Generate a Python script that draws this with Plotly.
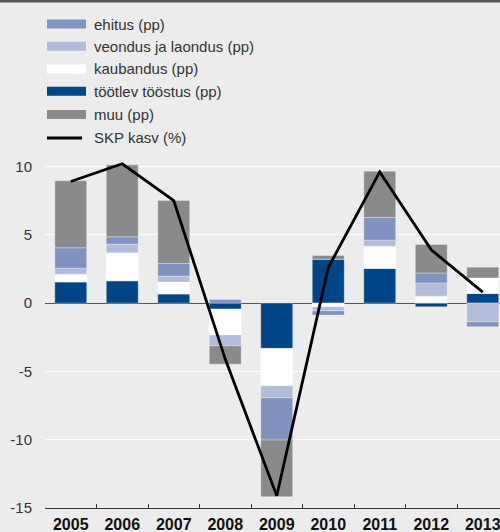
import plotly.graph_objects as go

years = ["2005", "2006", "2007", "2008", "2009", "2010", "2011", "2012", "2013"]
tootlev = [1.54, 1.63, 0.66, -0.44, -3.32, 3.20, 2.54, -0.27, 0.70]
kaubandus = [0.58, 2.05, 0.88, -1.90, -2.73, -0.27, 1.63, 0.51, 1.14]
veondus = [0.44, 0.64, 0.44, -0.78, -0.88, -0.29, 0.44, 0.97, -1.37]
ehitus = [1.49, 0.53, 0.92, 0.27, -3.10, -0.32, 1.66, 0.73, -0.36]
muu = [4.90, 5.27, 4.62, -1.35, -4.15, 0.29, 3.39, 2.08, 0.79]
skp = [8.9, 10.2, 7.5, -4.1, -14.1, 2.6, 9.6, 3.9, 0.8]
y_ticks = [-15, -10, -5, 0, 5, 10]

names = {
    "ehitus": "ehitus (pp)",
    "veondus": "veondus ja laondus (pp)",
    "kaubandus": "kaubandus (pp)",
    "tootlev": "töötlev tööstus (pp)",
    "muu": "muu (pp)",
    "skp": "SKP kasv (%)",
}
colors = {
    "ehitus": "#8092be",
    "veondus": "#b2bbd9",
    "kaubandus": "#ffffff",
    "tootlev": "#004587",
    "muu": "#898a8b",
}

W, H = 500, 532
ML, MR, MT, MB = 45, 0, 0, 24
PW, PH = W - ML - MR, H - MT - MB
bg = "#ebeceb"

fig = go.Figure()
for key, vals in [("tootlev", tootlev), ("kaubandus", kaubandus), ("veondus", veondus),
                  ("ehitus", ehitus), ("muu", muu)]:
    fig.add_trace(go.Bar(
        x=years, y=vals, name=names[key], width=0.62,
        marker=dict(color=colors[key], line=dict(width=0.6, color="rgba(255,255,255,0.55)")),
        showlegend=False,
    ))
fig.add_trace(go.Scatter(
    x=years, y=skp, name=names["skp"], mode="lines",
    line=dict(color="#000000", width=2.8), showlegend=False,
))

def px_x(px):
    return (px - ML) / PW

def px_y(py):
    return (H - MB - py) / PH

shapes = []
annotations = []
# top border
shapes.append(dict(type="rect", xref="paper", yref="paper",
                   x0=px_x(0), x1=px_x(W), y0=px_y(2.5), y1=px_y(-1),
                   fillcolor="#555555", line=dict(width=0), layer="above"))
# manual legend
legend_items = [("ehitus", 24), ("veondus", 46.3), ("kaubandus", 69), ("tootlev", 91.2), ("muu", 114.5)]
for key, cy in legend_items:
    shapes.append(dict(type="rect", xref="paper", yref="paper",
                       x0=px_x(47), x1=px_x(86), y0=px_y(cy + 4.5), y1=px_y(cy - 4.5),
                       fillcolor=colors[key], line=dict(width=0), layer="above"))
    annotations.append(dict(xref="paper", yref="paper", x=px_x(92), y=px_y(cy),
                            xanchor="left", yanchor="middle", showarrow=False,
                            text=names[key], font=dict(size=15, color="#333333")))
shapes.append(dict(type="line", xref="paper", yref="paper",
                   x0=px_x(47), x1=px_x(82), y0=px_y(138), y1=px_y(138),
                   line=dict(color="#000000", width=2.8), layer="above"))
annotations.append(dict(xref="paper", yref="paper", x=px_x(92), y=px_y(137.5),
                        xanchor="left", yanchor="middle", showarrow=False,
                        text=names["skp"], font=dict(size=15, color="#333333")))

y_top = -15 + PH / 13.66
x_right = -0.5 + PW / 51.5

fig.update_layout(
    width=W, height=H,
    margin=dict(l=ML, r=MR, t=MT, b=MB, pad=0, autoexpand=False),
    paper_bgcolor=bg, plot_bgcolor=bg,
    barmode="relative",
    bargap=0.38,
    font=dict(family="Liberation Sans, Arial, sans-serif", color="#333333"),
    shapes=shapes,
    annotations=annotations,
    xaxis=dict(
        type="category", range=[-0.5, x_right], automargin=False,
        showgrid=False, showline=True, linecolor="#333333", linewidth=1.2,
        ticks="inside", tickson="boundaries", ticklen=4, tickcolor="#333333", tickwidth=1,
        tickfont=dict(size=16, color="#111111", family="Liberation Sans, Arial, sans-serif", weight="bold"),
        ticklabelstandoff=2,
        zeroline=False, fixedrange=True,
    ),
    yaxis=dict(
        range=[-15, y_top], tickvals=y_ticks, ticktext=[str(v) for v in y_ticks], automargin=False,
        showgrid=True, gridcolor="#ffffff", gridwidth=1.2,
        zeroline=True, zerolinecolor="#555555", zerolinewidth=1.2,
        showline=False, ticks="",
        tickfont=dict(size=15, color="#333333"),
        ticklabelstandoff=12,
        fixedrange=True,
    ),
)

fig.write_html("out.html", config={"displayModeBar": False},
               post_script="document.body.style.margin='0';document.body.style.overflow='hidden';")
